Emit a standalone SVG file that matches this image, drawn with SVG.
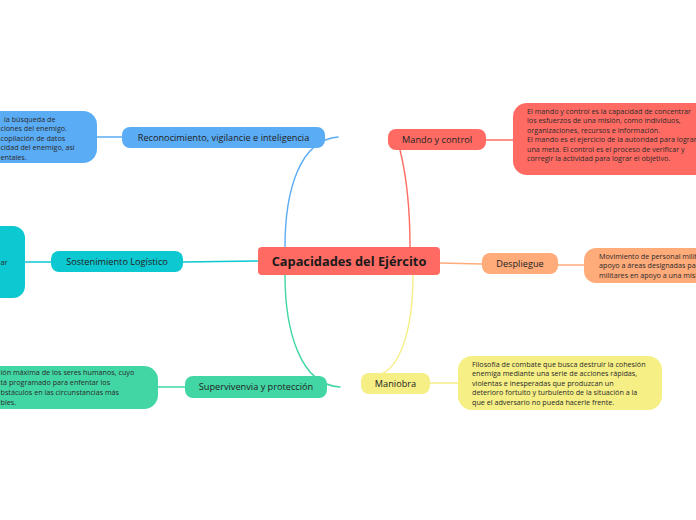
<svg xmlns="http://www.w3.org/2000/svg" width="696" height="520" viewBox="0 0 696 520">
<style>
.lbl{font-family:"Open Sans","Noto Sans",sans-serif;font-size:9.2px;fill:#222;text-anchor:middle}
.txt{font-family:"Open Sans","Noto Sans",sans-serif;font-size:7.2px;fill:#2a2a2a}
.root{font-family:"Open Sans","Noto Sans",sans-serif;font-size:12.8px;font-weight:bold;fill:#1a1a1a;text-anchor:middle}
.c{fill:none;stroke-width:1.4;stroke-linecap:round}
</style>
<rect width="696" height="520" fill="#ffffff"/>
<g id="connectors">
<path class="c" stroke="#5aacf4" d="M285,247 C285,190 300,140 338,137"/>
<path class="c" stroke="#0cc8d0" d="M258,261 L183,262"/>
<path class="c" stroke="#42d6a4" d="M285,275 C285,330 300,385 340,387"/>
<path class="c" stroke="#ff6b63" d="M410,247 C410,200 405,170 400,150"/>
<path class="c" stroke="#ffab7a" d="M440,263 L482,264"/>
<path class="c" stroke="#f6ef86" d="M413,275 C413,330 400,365 383,373"/>
<path class="c" stroke="#5aacf4" d="M97,137 L122,137"/>
<path class="c" stroke="#0cc8d0" d="M25,262 L51,262"/>
<path class="c" stroke="#42d6a4" d="M158,387 L185,387"/>
<path class="c" stroke="#ff6b63" d="M486,140 L513,140"/>
<path class="c" stroke="#ffab7a" d="M558,265 L584,265"/>
<path class="c" stroke="#f6ef86" d="M430,383 L458,383"/>
</g>
<g id="root">
<rect x="258" y="247" width="182" height="28" rx="4" fill="#ff6b63"/>
<text class="root" x="349" y="265.5">Capacidades del Ejército</text>
</g>
<g id="n-reconocimiento">
<rect x="122" y="127" width="203" height="21" rx="8" fill="#5aacf4"/>
<text class="lbl" x="223.5" y="140.8">Reconocimiento, vigilancie e inteligencia</text>
</g>
<g id="t-reconocimiento">
<rect x="-20" y="111" width="117" height="52" rx="14" fill="#5aacf4"/>
<text class="txt"><tspan x="4" y="121.5">la búsqueda de</tspan><tspan x="0.5" y="131">ciones del enemigo.</tspan><tspan x="0.5" y="140.5">copilación de datos</tspan><tspan x="0.5" y="150">cidad del enemigo, así</tspan><tspan x="0.5" y="159.5">entales.</tspan></text>
</g>
<g id="n-sostenimiento">
<rect x="51" y="251" width="132" height="21" rx="8" fill="#0cc8d0"/>
<text class="lbl" x="117" y="264.8">Sostenimiento Logístico</text>
</g>
<g id="t-sostenimiento">
<rect x="-20" y="226" width="45" height="72" rx="12" fill="#0cc8d0"/>
<text class="txt" x="0.5" y="264.5">ar</text>
</g>
<g id="n-supervivencia">
<rect x="185" y="376" width="142" height="22" rx="8" fill="#42d6a4"/>
<text class="lbl" x="256" y="390.3">Supervivenvia y protección</text>
</g>
<g id="t-supervivencia">
<rect x="-20" y="366" width="178" height="43" rx="14" fill="#42d6a4"/>
<text class="txt"><tspan x="0.5" y="375">ión máxima de los seres humanos, cuyo</tspan><tspan x="0.5" y="385">tá programado para enfentar los</tspan><tspan x="0.5" y="395">bstáculos en las circunstancias más</tspan><tspan x="0.5" y="405">bles.</tspan></text>
</g>
<g id="n-mando">
<rect x="388" y="129" width="98" height="21" rx="8" fill="#ff6b63"/>
<text class="lbl" x="437" y="142.8">Mando y control</text>
</g>
<g id="t-mando">
<rect x="513" y="103" width="200" height="72" rx="14" fill="#ff6b63"/>
<text class="txt"><tspan x="527" y="113.5">El mando y control es la capacidad de concentrar</tspan><tspan x="527" y="123">los esfuerzos de una misión, como individuos,</tspan><tspan x="527" y="132.5">organizaciones, recursos e información.</tspan><tspan x="527" y="142">El mando es el ejercicio de la autoridad para lograr</tspan><tspan x="527" y="151.5">una meta. El control es el proceso de verificar y</tspan><tspan x="527" y="161">corregir la actividad para lograr el objetivo.</tspan></text>
</g>
<g id="n-despliegue">
<rect x="482" y="253" width="76" height="21" rx="8" fill="#ffab7a"/>
<text class="lbl" x="520" y="266.8">Despliegue</text>
</g>
<g id="t-despliegue">
<rect x="584" y="248" width="130" height="35" rx="12" fill="#ffab7a"/>
<text class="txt"><tspan x="599" y="258.5">Movimiento de personal militar</tspan><tspan x="599" y="268">apoyo a áreas designadas para</tspan><tspan x="599" y="277.5">militares en apoyo a una misión</tspan></text>
</g>
<g id="n-maniobra">
<rect x="361" y="373" width="69" height="21" rx="8" fill="#f6ef86"/>
<text class="lbl" x="395.5" y="386.8">Maniobra</text>
</g>
<g id="t-maniobra">
<rect x="458" y="356" width="204" height="54" rx="14" fill="#f6ef86"/>
<text class="txt"><tspan x="472" y="366.5">Filosofía de combate que busca destruir la cohesión</tspan><tspan x="472" y="376">enemiga mediante una serie de acciones rápidas,</tspan><tspan x="472" y="385.5">violentas e inesperadas que produzcan un</tspan><tspan x="472" y="395">deterioro fortuito y turbulento de la situación a la</tspan><tspan x="472" y="404.5">que el adversario no pueda hacerle frente.</tspan></text>
</g>
</svg>
